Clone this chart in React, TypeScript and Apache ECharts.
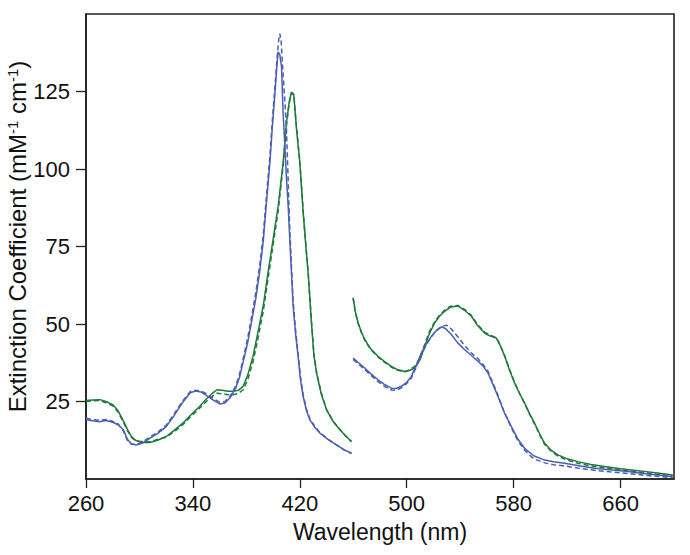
import React, { useEffect, useRef } from "react";
import * as echarts from "echarts";

// Wavelength (nm) / extinction coefficient (mM^-1 cm^-1) pairs
const blueSolidLeft: number[][] = [[260,19.1],[265,18.8],[270,18.5],[275,18.9],[280,18.3],[284,17.5],[288,15.9],[291,12.8],[294,11.3],[298,11.0],[302,11.5],[308,13.2],[314,14.8],[320,16.9],[326,20.5],[332,24.5],[338,27.8],[342,28.4],[346,28.1],[350,27.0],[355,25.5],[360,24.2],[364,24.5],[368,26.3],[372,29.3],[375,33],[378,38.5],[381,44],[384,51],[387,58],[390,67],[392.6,76.5],[395,89],[397.6,102],[399.5,114],[401.3,124],[402.8,133],[403.8,137.8],[405,137],[406.3,133],[407.5,118],[409,106],[410,97],[411.3,88],[412.5,77.3],[413.8,66],[415,55.8],[416.8,47],[418.7,39.6],[420.5,32],[422.5,26.6],[425,22],[427.5,19.1],[431,16.8],[435,14.8],[441,12.8],[447.4,11],[453,9.5],[458.7,8.3]];
const blueSolidRight: number[][] = [[459.9,39],[464,37.5],[468.6,35.8],[473,34],[478.5,32],[483,30.6],[488.5,29.3],[492,29.2],[496,29.9],[500,31.2],[503.5,33.1],[507,36.5],[511,40.7],[515,43.8],[518.5,46],[522,47.8],[526,49.1],[529,48.5],[533.4,46.6],[538,44],[543.4,41.7],[548,40],[553.3,38],[557,36.5],[560.8,34.2],[564,31],[568.3,26.6],[573,21.5],[578.3,16.9],[583,13],[588.2,9.9],[595,7.5],[603.2,6.1],[610,5.6],[618.1,5.1],[630,4.2],[640.6,3.5],[652,3],[665.5,2.4],[680,1.6],[690,1.2],[699,0.7]];

const blueDashedLeft: number[][] = [[260,19.6],[265,19.2],[270,18.9],[275,19.2],[280,18.6],[284,17.8],[288,15.5],[291,12.4],[294,11.2],[298,11.2],[302,11.8],[308,13.6],[314,15.2],[320,17.3],[326,21],[332,25],[338,28.2],[342,28.6],[346,28.4],[350,27.5],[355,26],[360,24.8],[364,25],[368,26.8],[372,30],[375,34],[378,39.5],[381,45.5],[384,52.5],[387,60],[390,69],[392.6,78.5],[395,91],[397.6,104],[399.5,116],[401.3,126],[403,136],[404.3,142],[405,143.7],[406,141.5],[407,134],[408.5,124],[410,113],[411.3,96],[412.5,80.6],[413.8,68],[415,57.5],[416.8,48],[418.7,40.5],[420.5,33],[422.5,27.2],[425,22.5],[427.5,19.5],[431,17.1],[435,15],[441,12.9],[447.4,11],[453,9.4],[458.7,8.2]];
const blueDashedRight: number[][] = [[459.9,38.6],[464,37],[468.6,35.3],[473,33.5],[478.5,31.4],[483,30],[488.5,28.7],[492,28.6],[496,29.4],[500,30.8],[503.5,32.6],[507,36],[511,40.2],[515,43.5],[518.5,45.9],[522,47.9],[526,49.2],[530,49.6],[533.4,48.4],[538,46],[543.4,43],[548,40.8],[553.3,38.8],[557,37],[560.8,34.8],[564,31.5],[568.3,27],[573,21.5],[578.3,16.5],[583,12.5],[588.2,9.3],[595,6.5],[603.2,5.2],[610,4.6],[618.1,4.2],[630,3.4],[640.6,2.8],[652,2.3],[665.5,1.8],[680,1.1],[690,0.8],[699,0.4]];

const greenSolidLeft: number[][] = [[260,25.3],[265,25.5],[270.5,25.6],[275,25],[280,24],[284,22],[287.7,19],[291,16],[294,13.7],[297,12.5],[300,12],[304,11.8],[308,11.8],[314,12.6],[320,13.7],[326,15.7],[332.5,18],[338,20.5],[345,23.4],[350,25.8],[355,27.8],[358,28.8],[362,28.6],[366,28.3],[370,28.3],[374,28.6],[377.6,29.9],[381,33.5],[385,39.6],[388.5,47],[392.6,55.8],[396,66],[400,77.3],[403.8,88],[407.5,102],[410,115],[412,121.5],[413.8,124.8],[415.5,124],[417.5,113],[420,102],[422.5,86],[424.5,75.2],[426.2,66.6],[428.7,50.4],[430.5,40],[432.5,34.2],[436,27.5],[440,22.3],[445,18.5],[450,15.9],[454,14],[458.7,12.1]];
const greenSolidRight: number[][] = [[459.9,58.5],[461.5,54],[463.6,50.4],[466,47.5],[468.6,45],[473,42],[478.5,39.6],[483,38],[488.5,36.3],[493,35.3],[498.5,34.7],[502,35],[506,35.8],[510,38.5],[513.5,42.8],[517,47],[521,50.4],[524.5,52.5],[528.4,54.1],[533,55.5],[538.4,55.8],[543,54.5],[548.4,52.5],[553,49.5],[558.3,47.1],[562,46.2],[567,45.5],[570,43],[573.3,39.6],[577,35],[580.7,31],[584.5,27.5],[588.2,24.5],[592,21],[595.7,18],[599.5,14.5],[603.2,11.5],[608,9.3],[613.1,7.8],[620,6.5],[628,5.6],[638,4.7],[648,4],[660,3.3],[673,2.7],[686,2],[699,1.3]];

const greenDashedLeft: number[][] = [[260,25],[265,25.2],[270.5,25.3],[275,24.6],[280,23.6],[284,21.6],[287.7,18.6],[291,15.6],[294,13.4],[297,12.4],[300,12.2],[304,12],[308,12.1],[314,12.8],[320,13.5],[326,15.3],[332.5,17.5],[338,20],[345,22.8],[350,25],[355,26.8],[358,27.7],[362,27.5],[366,27.2],[370,27.2],[374,27.6],[377.6,28.8],[381,32],[385,37.8],[388.5,45],[392.6,54],[396,64],[400,75.5],[403.8,86.5],[407.5,101],[410,114],[412,121],[413.8,124.6],[415.5,123.8],[417.5,113.5],[420,102.5],[422.5,86.5],[424.5,75.5],[426.2,67],[428.7,51],[430.5,40.5],[432.5,34.5],[436,27.8],[440,22.5],[445,18.6],[450,16],[454,14],[458.7,12]];
const greenDashedRight: number[][] = [[459.9,58.3],[461.5,53.8],[463.6,50.2],[466,47.3],[468.6,44.8],[473,41.8],[478.5,39.4],[483,37.8],[488.5,36.1],[493,35.1],[498.5,34.6],[502,35.2],[506,36.3],[510,39.2],[513.5,43.5],[517,47.6],[521,50.8],[524.5,52.8],[528.4,54.5],[533,55.8],[538.4,56],[543,54.8],[548.4,52.8],[553,49.8],[558.3,47.4],[562,46.5],[567,45.6],[570,43.2],[573.3,39.8],[577,35.3],[580.7,31.2],[584.5,27.6],[588.2,24.4],[592,20.8],[595.7,17.7],[599.5,14.2],[603.2,11.2],[608,9],[613.1,7.4],[620,6.1],[628,5.1],[638,4.2],[648,3.6],[660,2.9],[673,2.3],[686,1.6],[699,1.0]];

const xTicks = [260, 340, 420, 500, 580, 660];
const yTicks = [25, 50, 75, 100, 125];

const BLUE = "#4a5eb3";
const GREEN = "#1e7a3b";
const FONT = "Liberation Sans, Arial, sans-serif";

function joinWithGap(left: number[][], right: number[][]) {
  return [...left, [459.3, null], ...right];
}

export default function App() {
  const ref = useRef<HTMLDivElement>(null);
  useEffect(() => {
    if (!ref.current) return;
    const chart = echarts.init(ref.current, null, { renderer: "svg" });
    const mk = (name: string, data: any[], color: string, dashed: boolean) => ({
      name,
      type: "line",
      data,
      showSymbol: false,
      symbol: "none",
      connectNulls: false,
      lineStyle: { color, width: 1.5, type: dashed ? [5, 3] : "solid" },
      silent: true,
    });
    chart.setOption({
      animation: false,
      grid: {
        left: 86,
        top: 14,
        right: 16,
        bottom: 76,
        show: true,
        borderColor: "#222",
        borderWidth: 1.6,
        containLabel: false,
        outerBoundsMode: "none",
      },
      xAxis: {
        type: "value",
        min: 260,
        max: 700,
        name: "Wavelength (nm)",
        nameLocation: "middle",
        nameGap: 41,
        nameMoveOverlap: false,
        nameTextStyle: { fontFamily: FONT, fontSize: 23, color: "#111" },
        axisLine: { show: true, onZero: false, lineStyle: { color: "#222", width: 1.6 } },
        axisTick: { show: true, length: 9, customValues: xTicks, lineStyle: { color: "#222", width: 1.3 } },
        axisLabel: { customValues: xTicks, fontFamily: FONT, fontSize: 22, color: "#111", margin: 13 },
        splitLine: { show: false },
      },
      yAxis: {
        type: "value",
        min: 0,
        max: 150,
        name: "Extinction Coefficient (mM{sup|-1} cm{sup|-1})",
        nameLocation: "middle",
        nameGap: 56,
        nameRotate: 90,
        nameMoveOverlap: false,
        nameTextStyle: {
          fontFamily: FONT,
          fontSize: 24,
          color: "#111",
          padding: [0, 0, 0, 20],
          rich: {
            sup: { fontFamily: FONT, fontSize: 15, color: "#111", verticalAlign: "top", padding: [0, 0, 10, 0] },
          },
        },
        axisLine: { show: true, onZero: false, lineStyle: { color: "#222", width: 1.6 } },
        axisTick: { show: true, length: 10, customValues: yTicks, lineStyle: { color: "#222", width: 1.3 } },
        axisLabel: { customValues: yTicks, fontFamily: FONT, fontSize: 22, color: "#111", margin: 16 },
        splitLine: { show: false },
      },
      series: [
        mk("Green dashed", joinWithGap(greenDashedLeft, greenDashedRight), GREEN, true),
        mk("Green solid", joinWithGap(greenSolidLeft, greenSolidRight), GREEN, false),
        mk("Blue dashed", joinWithGap(blueDashedLeft, blueDashedRight), BLUE, true),
        mk("Blue solid", joinWithGap(blueSolidLeft, blueSolidRight), BLUE, false),
      ],
    });
    return () => chart.dispose();
  }, []);
  return <div ref={ref} style={{ width: 690, height: 555, position: "absolute", left: 0, top: 0 }} />;
}
